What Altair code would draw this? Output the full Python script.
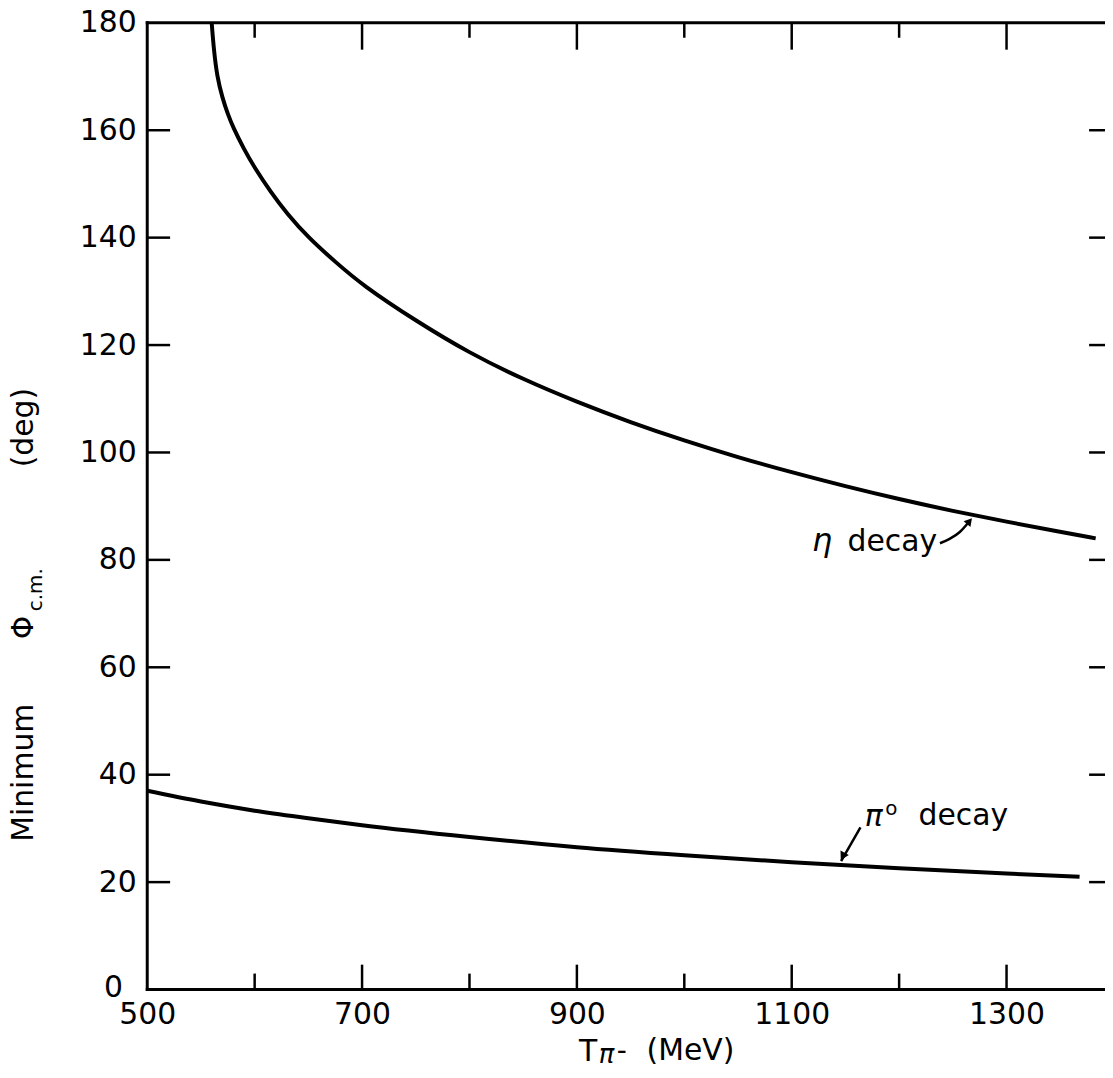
import altair as alt
import pandas as pd

# ---- data ----
eta_T = [560, 562, 565, 570, 575, 580, 590, 600, 615, 630, 650, 675, 700, 750, 800,
         850, 900, 950, 1000, 1050, 1100, 1150, 1200, 1250, 1300, 1350, 1383]
eta_deg = [180, 175, 170, 166, 163, 160.5, 156.5, 153, 148.5, 144.5, 140, 135.5, 131.2,
           124.5, 118.5, 113.6, 109.4, 105.6, 102.2, 99.1, 96.3, 93.7, 91.3, 89.1, 87.1, 85.2, 84]
pi0_T = [500, 550, 600, 650, 700, 800, 900, 1000, 1100, 1200, 1300, 1368]
pi0_deg = [37, 35, 33.3, 31.9, 30.6, 28.4, 26.5, 25, 23.7, 22.6, 21.6, 21]

x_label_values = [500, 700, 900, 1100, 1300]
y_label_values = [20, 40, 60, 80, 100, 120, 140, 160, 180]
x_major_ticks = [700, 900, 1100, 1300]
x_minor_ticks = [600, 800, 1000, 1200]
y_ticks = [20, 40, 60, 80, 100, 120, 140, 160]

# annotation anchors (data units)
eta_arrow_T = [1238, 1247, 1256.5, 1265.5]
eta_arrow_deg = [83.1, 83.9, 85.2, 87.2]
pi_arrow_T = [1164, 1146]
pi_arrow_deg = [30.2, 23.9]

W, H = 963, 972
FONT = "DejaVu Sans"
PXPER = 1.08  # px per MeV
xs = alt.Scale(domain=[500, 500 + W / PXPER], nice=False, zero=False)
ys = alt.Scale(domain=[0, 180], nice=False, zero=False)

eta_df = pd.DataFrame({"T": eta_T, "deg": eta_deg})
pi_df = pd.DataFrame({"T": pi0_T, "deg": pi0_deg})

one = alt.Data(values=[{"a": 1}])

curve_eta = alt.Chart(eta_df).mark_line(
    color="black", strokeWidth=4, interpolate="basis", clip=True
).encode(
    x=alt.X("T:Q", scale=xs, axis=alt.Axis(
        values=x_label_values, ticks=False, domain=False, grid=False,
        labelFont=FONT, labelFontSize=30, labelColor="black", labelPadding=10,
        labelFlush=False, labelOverlap=False, title=None, format="d")),
    y=alt.Y("deg:Q", scale=ys, axis=alt.Axis(
        values=y_label_values, ticks=False, domain=False, grid=False,
        labelFont=FONT, labelFontSize=30, labelColor="black", labelPadding=11,
        labelOverlap=False, title=None, format="d")),
)

curve_pi = alt.Chart(pi_df).mark_line(
    color="black", strokeWidth=4, interpolate="monotone", clip=True
).encode(x=alt.X("T:Q", scale=xs), y=alt.Y("deg:Q", scale=ys))

# frame lines
frame_left = alt.Chart(one).mark_rule(color="black", strokeWidth=3, strokeCap="square").encode(
    x=alt.value(0), y=alt.value(0), y2=alt.value(H))
frame_bottom = alt.Chart(one).mark_rule(color="black", strokeWidth=3, strokeCap="square").encode(
    x=alt.value(0), x2=alt.value(W), y=alt.value(H))
frame_top = alt.Chart(one).mark_rule(color="black", strokeWidth=3, strokeCap="square").encode(
    x=alt.value(0), x2=alt.value(W), y=alt.value(0))

# inward ticks
xmaj = pd.DataFrame({"T": x_major_ticks})
xmin = pd.DataFrame({"T": x_minor_ticks})
yt = pd.DataFrame({"deg": y_ticks})

def xtick(df, y0, y1):
    return alt.Chart(df).mark_rule(color="black", strokeWidth=2.5).encode(
        x=alt.X("T:Q", scale=xs), y=alt.value(y0), y2=alt.value(y1))

def ytick(x0, x1):
    return alt.Chart(yt).mark_rule(color="black", strokeWidth=2.5).encode(
        y=alt.Y("deg:Q", scale=ys), x=alt.value(x0), x2=alt.value(x1))

ticks = [
    xtick(xmaj, H, H - 25), xtick(xmin, H, H - 16),
    xtick(xmaj, 0, 27), xtick(xmin, 0, 15),
    ytick(0, 23), ytick(W - 16, W),
]

# annotations
def label(text, T, deg, size=30, style="normal", baseline="alphabetic", align="left"):
    d = pd.DataFrame({"T": [T], "deg": [deg], "t": [text]})
    return alt.Chart(d).mark_text(
        font=FONT, fontSize=size, fontStyle=style, color="black",
        align=align, baseline=baseline
    ).encode(x=alt.X("T:Q", scale=xs), y=alt.Y("deg:Q", scale=ys), text="t:N")

annots = [
    label("η", 1119, 81.6, size=32, style="italic"),
    label("decay", 1152, 81.6),
    label("π", 1168, 30.4, size=30, style="italic"),
    label("o", 1187, 33.6, size=20, baseline="middle"),
    label("decay", 1218, 30.6),
]

eta_arrow = alt.Chart(pd.DataFrame({"T": eta_arrow_T, "deg": eta_arrow_deg})).mark_line(
    color="black", strokeWidth=2.5, interpolate="monotone").encode(
    x=alt.X("T:Q", scale=xs), y=alt.Y("deg:Q", scale=ys))
eta_head = alt.Chart(pd.DataFrame({"T": [eta_arrow_T[-1]], "deg": [eta_arrow_deg[-1]]})).mark_point(
    shape="triangle-up", filled=True, color="black", size=80, angle=40, opacity=1).encode(
    x=alt.X("T:Q", scale=xs), y=alt.Y("deg:Q", scale=ys))
pi_arrow = alt.Chart(pd.DataFrame({"T": pi_arrow_T, "deg": pi_arrow_deg})).mark_line(
    color="black", strokeWidth=2.5).encode(
    x=alt.X("T:Q", scale=xs), y=alt.Y("deg:Q", scale=ys))
pi_head = alt.Chart(pd.DataFrame({"T": [pi_arrow_T[-1] + 1.5], "deg": [pi_arrow_deg[-1] + 0.9]})).mark_point(
    shape="triangle-up", filled=True, color="black", size=90, angle=208, opacity=1).encode(
    x=alt.X("T:Q", scale=xs), y=alt.Y("deg:Q", scale=ys))

# axis titles as text pieces (pixel placed, relative to plot origin)
def ptext(text, x, y, size=30, angle=0, align="left", baseline="alphabetic", style="normal"):
    return alt.Chart(one).mark_text(
        text=text, font=FONT, fontSize=size, color="black", angle=angle,
        align=align, baseline=baseline, fontStyle=style
    ).encode(x=alt.value(x), y=alt.value(y))

titles = [
    ptext("0", -34, H - 1, align="center", baseline="middle"),
    ptext("T", 434, 1044),
    ptext("π", 454, 1046, size=26, style="italic"),
    ptext("-", 472, 1043, size=28),
    ptext("(MeV)", 502, 1043),
    ptext("Minimum", -115, 754, angle=270, align="center"),
    ptext("Φ", -115, 608, angle=270, align="center"),
    ptext("c.m.", -106, 570, size=20, angle=270, align="center"),
    ptext("(deg)", -115, 407, angle=270, align="center"),
]

chart = alt.layer(
    curve_eta, curve_pi, frame_left, frame_bottom, frame_top, *ticks,
    *annots, eta_arrow, eta_head, pi_arrow, pi_head, *titles
).properties(
    width=W, height=H,
    padding={"left": 140, "top": 12, "right": 0, "bottom": 76},
    autosize=alt.AutoSizeParams(type="none"),
    background="white",
).configure_view(stroke=None)

chart.save("out.html", embed_options={"renderer": "svg", "actions": False})
